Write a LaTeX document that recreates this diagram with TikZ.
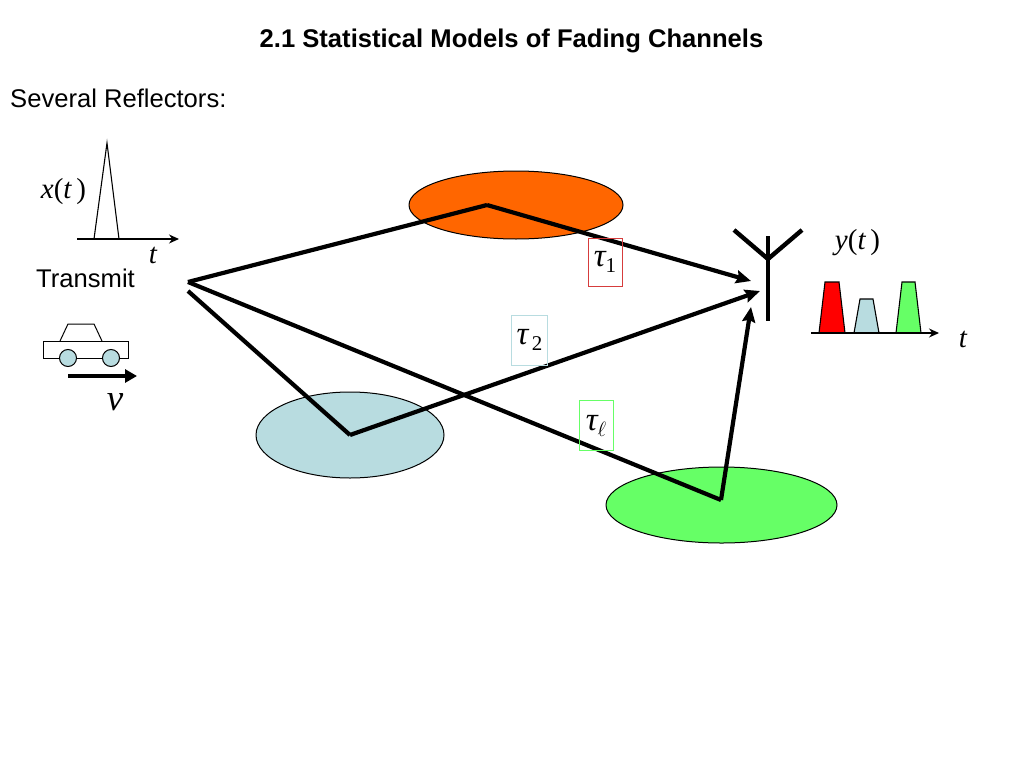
\documentclass[tikz,border=0pt]{standalone}
\usepackage{fontspec}
\setmainfont{Liberation Sans}
\newfontfamily\symfont{Liberation Serif}
\usetikzlibrary{arrows.meta}
\definecolor{orangeR}{RGB}{255,102,0}
\definecolor{blueR}{RGB}{184,220,224}
\definecolor{greenR}{RGB}{102,255,102}
\definecolor{redR}{RGB}{214,60,60}
\newcommand{\up}[1]{{\upshape #1}}
\tikzset{
ray/.style={line width=4.2pt, -{Stealth[length=15pt,width=13pt,inset=2pt]}},
axis/.style={line width=1.2pt, -{Stealth[length=10pt,width=9pt]}},
sans/.style={font=\fontsize{25.6}{28}\selectfont, inner sep=0pt},
sym/.style={font=\symfont\itshape\fontsize{29}{30}\selectfont, inner sep=0pt},
taubox/.style={draw=#1, line width=1pt, minimum width=34pt, minimum height=48pt, inner sep=0pt, font=\symfont\itshape\fontsize{33}{34}\selectfont},
pulse/.style={draw=black, line width=1.1pt, fill=#1}
}
\begin{document}
\begin{tikzpicture}[x=1pt,y=-1pt]
\useasboundingbox (0,0) rectangle (1024,768);

\node [font=\bfseries\fontsize{25.6}{28}\selectfont, inner sep=0pt] (title) at (511.5,41) {2.1 Statistical Models of Fading Channels};
\node [sans, anchor=west] (several) at (10,98.5) {Several Reflectors:};
\node [sans, anchor=west] (transmit) at (36,278) {Transmit};

% the reflectors
\draw [line width=1pt, fill=orangeR] (516,205) ellipse [x radius=107, y radius=34];
\draw [line width=1pt, fill=blueR] (350,435) ellipse [x radius=94, y radius=43];
\draw [line width=1pt, fill=greenR] (721.5,505) ellipse [x radius=115.5, y radius=38];

% the input pulse
\coordinate (xa) at (77,239);
\coordinate (xb) at (179,239);
\draw [axis] (xa)--(xb);
\draw [line width=1.1pt] (94,239)--(107,143)--(119,239);
\node [sym] (xlabel) at (63.5,191.5) {x\up{(}t\,\up{)}};
\node [sym] (xt) at (153,255) {t};

% the car
\draw [line width=1pt] (43,341) rectangle (128,358);
\draw [line width=1pt] (60,341)--(68,324)--(94,324)--(102,341);
\draw [line width=1pt, fill=blueR] (68,358) circle (8.5);
\draw [line width=1pt, fill=blueR] (111,358) circle (8.5);
\coordinate (va) at (68,376);
\coordinate (vb) at (137,376);
\draw [line width=4pt, -{Stealth[length=12pt,width=13pt,inset=0pt]}] (va)--(vb);
\node [sym, font=\symfont\itshape\fontsize{37}{38}\selectfont] (v) at (115,402) {v};

% the paths
\coordinate (tx) at (188,282);
\coordinate (txb) at (188,291);
\coordinate (r1) at (487,205);
\coordinate (r2) at (350,435);
\coordinate (r3) at (721,500);
\draw [line width=4.2pt] (tx)--(r1);
\draw [ray] (r1)--(751,281);
\draw [line width=4.2pt] (txb)--(r2);
\draw [ray] (r2)--(760,291);
\draw [line width=4.2pt] (tx)--(r3);
\draw [ray] (r3)--(751,307);

% the antenna
\draw [line width=4.4pt] (768,236)--(768,321);
\draw [line width=4.4pt] (734,230)--(768,259)--(802,230);

% the delays
\node [taubox={redR}] (tau1) at (605,262) {τ\raisebox{-6pt}{\fontsize{21}{21}\selectfont\upshape 1}};
\node [taubox={blueR}, minimum width=36pt, minimum height=50pt] (tau2) at (529.5,340) {τ\raisebox{-6pt}{\fontsize{21}{21}\selectfont\upshape\,2}};
\node [taubox={greenR}, minimum height=50pt] (taul) at (596,425.5) {τ\raisebox{-6pt}{\fontsize{21}{21}\selectfont$\ell$}};

% the output pulses
\draw [pulse=red] (819,333)--(825,282)--(839,282)--(845,333)--cycle;
\draw [pulse=blueR] (854,333)--(860,299)--(873,299)--(879,333)--cycle;
\draw [pulse=greenR] (896,333)--(902,282)--(915,282)--(921,333)--cycle;
\coordinate (ya) at (811,333);
\coordinate (yb) at (939,333);
\draw [axis] (ya)--(yb);
\node [sym] (ylabel) at (857.5,243) {y\up{(}t\,\up{)}};
\node [sym] (yt) at (963,339) {t};
\end{tikzpicture}
\end{document}
